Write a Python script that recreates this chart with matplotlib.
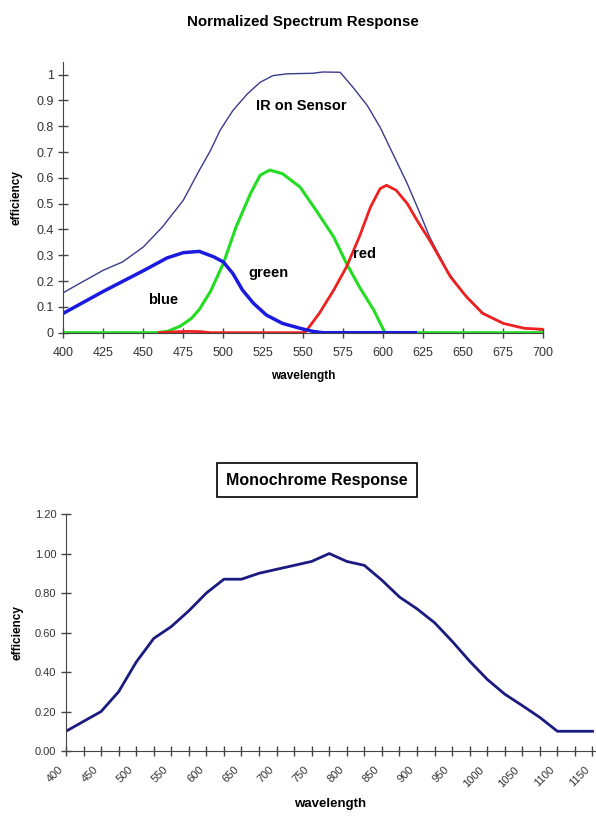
import numpy as np
import matplotlib
matplotlib.use('Agg')
from matplotlib import pyplot as plt
from matplotlib.transforms import ScaledTranslation

plt.rcParams['font.family'] = ['Liberation Sans', 'DejaVu Sans']

# ---- top chart data ----
wl_ir = [400, 410, 425, 437, 450, 462, 475, 485, 492, 498, 506, 515, 523, 531, 540,
         556, 562, 573, 581, 590, 598, 606, 615, 623, 629, 640, 650, 662, 675, 688, 700]
ir = [0.155, 0.19, 0.242, 0.274, 0.332, 0.41, 0.513, 0.629, 0.706, 0.784, 0.861,
      0.925, 0.97, 0.996, 1.003, 1.005, 1.01, 1.009, 0.951, 0.88, 0.796, 0.693,
      0.577, 0.461, 0.37, 0.24, 0.152, 0.078, 0.036, 0.018, 0.01]

wl_blue = [400, 425, 450, 465, 475, 485, 494, 500, 506, 512, 519, 527, 537, 548,
           556, 562, 620]
blue = [0.075, 0.16, 0.24, 0.29, 0.31, 0.315, 0.294, 0.274, 0.229, 0.165, 0.113,
        0.068, 0.036, 0.017, 0.005, 0.0, 0.0]

wl_green = [400, 458, 465, 473, 480, 485, 492, 500, 508, 517, 523, 529, 537, 548,
            558, 569, 577, 585, 594, 601, 700]
green = [0.0, 0.0, 0.005, 0.025, 0.055, 0.09, 0.16, 0.268, 0.41, 0.539, 0.61, 0.63,
         0.616, 0.564, 0.474, 0.371, 0.268, 0.178, 0.088, 0.0, 0.0]

wl_red = [460, 472, 478, 486, 492, 551, 560, 569, 577, 585, 592, 598, 602, 608, 615,
          621, 629, 642, 652, 662, 675, 688, 700]
red = [0.0, 0.004, 0.005, 0.004, 0.0, 0.0, 0.075, 0.165, 0.255, 0.371, 0.487, 0.558,
       0.571, 0.552, 0.5, 0.436, 0.358, 0.216, 0.139, 0.075, 0.036, 0.017, 0.013]

# ---- bottom chart data ----
wl_mono = list(range(400, 1175, 25))
mono = [0.10, 0.15, 0.20, 0.30, 0.45, 0.57, 0.63, 0.71, 0.80, 0.87, 0.87, 0.90,
        0.92, 0.94, 0.96, 1.00, 0.96, 0.94, 0.865, 0.78, 0.72, 0.65, 0.556, 0.455,
        0.363, 0.288, 0.23, 0.17, 0.10, 0.10, 0.10]

fig = plt.figure(figsize=(5.96, 8.18), dpi=100)

# 上图
ax1 = fig.add_axes([0.1062, 0.5933, 0.8054, 0.3313])
ax1.plot(wl_ir, ir, color='#3a3a8c', lw=1.0)
ax1.plot(wl_green, green, color='#22dd22', lw=2.2)
ax1.plot(wl_red, red, color='#ee2020', lw=2.0)
ax1.plot(wl_blue, blue, color='#1a1ae0', lw=2.5)

ax1.set_xlim(400, 700)
ax1.set_ylim(0, 1.05)
ax1.set_xticks(np.arange(400, 701, 25))
yt = np.round(np.arange(0, 1.01, 0.1), 1)
ax1.set_yticks(yt, ['0' if v == 0 else ('1' if v == 1 else f'{v:.1f}') for v in yt])
for s in ['top', 'right']:
    ax1.spines[s].set_visible(False)
for s in ['left', 'bottom']:
    ax1.spines[s].set_color('#444444')
ax1.tick_params(direction='inout', length=7, width=1, colors='#444444',
                labelsize=9, labelcolor='#333333')
ax1.tick_params(axis='x', pad=7)
ax1.set_xlabel('wavelength', fontsize=8.5, fontweight='bold', labelpad=8)
ax1.set_ylabel('efficiency', fontsize=8.5, fontweight='bold', labelpad=10)

ax1.text(549, 0.88, 'IR on Sensor', fontsize=10.5, fontweight='bold', ha='center', va='center')
ax1.text(462.5, 0.126, 'blue', fontsize=10.5, fontweight='bold', ha='center', va='center')
ax1.text(528, 0.233, 'green', fontsize=10.5, fontweight='bold', ha='center', va='center')
ax1.text(581, 0.304, 'red', fontsize=10.5, fontweight='bold', ha='left', va='center')

fig.text(303 / 596, 1 - 21.7 / 818, 'Normalized Spectrum Response', fontsize=10.9,
         fontweight='bold', ha='center', va='center')

# 下图
ax2 = fig.add_axes([0.1107, 0.0819, 0.8893, 0.2897])
ax2.plot(wl_mono, mono, color='#1a1a80', lw=2.0)
ax2.set_xlim(400, 1155)
ax2.set_ylim(0, 1.2)
ax2.set_yticks(np.arange(0, 1.21, 0.2), [f'{v:.2f}' for v in np.arange(0, 1.21, 0.2)])
ax2.set_xticks(np.arange(400, 1151, 50))
ax2.set_xticks(np.arange(400, 1151, 25), minor=True)
for s in ['top', 'right']:
    ax2.spines[s].set_visible(False)
for s in ['left', 'bottom']:
    ax2.spines[s].set_color('#444444')
ax2.tick_params(which='both', direction='inout', length=7, width=1, colors='#444444',
                labelsize=8, labelcolor='#333333')
offset = ScaledTranslation(-8 / 100, -4 / 100, fig.dpi_scale_trans)
for lab in ax2.get_xticklabels():
    lab.set_rotation(45)
    lab.set_ha('right')
    lab.set_va('top')
    lab.set_rotation_mode('anchor')
    lab.set_transform(lab.get_transform() + offset)
ax2.set_xlabel('wavelength', fontsize=9.5, fontweight='bold', labelpad=4)
ax2.xaxis.set_label_coords((330 - 66) / 530, -0.2)
ax2.set_ylabel('efficiency', fontsize=8.5, fontweight='bold', labelpad=8)

fig.text(317 / 596, 1 - 480 / 818, 'Monochrome Response', fontsize=11.5,
         fontweight='bold', ha='center', va='center',
         bbox=dict(boxstyle='square,pad=0.6', fc='white', ec='black', lw=1.2))

fig.savefig('out.png', dpi=100)
